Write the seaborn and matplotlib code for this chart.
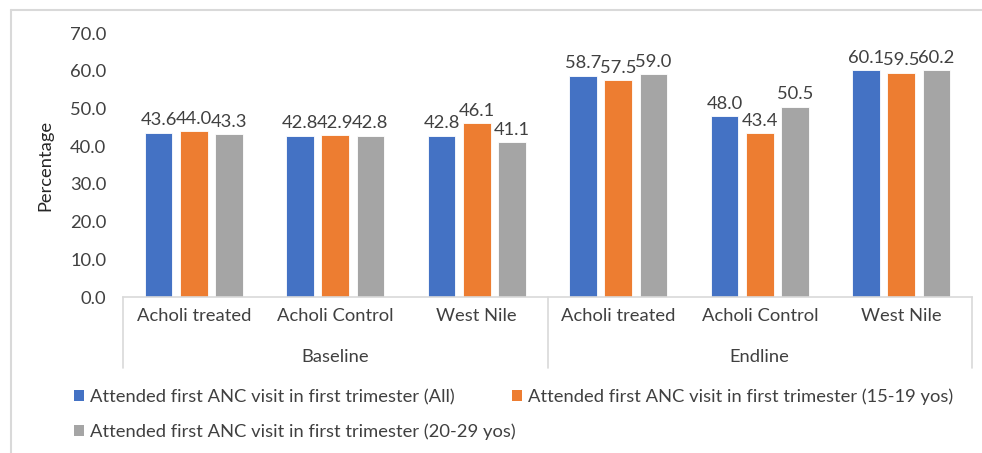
import matplotlib
matplotlib.use("Agg")
import matplotlib.pyplot as plt
from matplotlib.lines import Line2D
from matplotlib.patches import Patch
import matplotlib.transforms as mtransforms
import seaborn as sns
import pandas as pd

# ---- data ----
periods = ["Baseline", "Endline"]
sites = ["Acholi treated", "Acholi Control", "West Nile"]
series_names = [
    "Attended first ANC visit in first trimester (All)",
    "Attended first ANC visit in first trimester (15-19 yos)",
    "Attended first ANC visit in first trimester (20-29 yos)",
]
all_ages = [43.6, 42.8, 42.8, 58.7, 48.0, 60.1]
ages_15_19 = [44.0, 42.9, 46.1, 57.5, 43.4, 59.5]
ages_20_29 = [43.3, 42.8, 41.1, 59.0, 50.5, 60.2]
colors = ["#4472C4", "#ED7D31", "#A5A5A5"]
text_color = "#404040"
fs = 13.2

# ---- long-form table ----
keys = [f"{p}|{s}" for p in periods for s in sites]
rows = []
for name, vals in zip(series_names, [all_ages, ages_15_19, ages_20_29]):
    for k, v in zip(keys, vals):
        rows.append({"group": k, "series": name, "value": v})
df = pd.DataFrame(rows)

sns.set_theme(style="white")
plt.rcParams["font.family"] = ["Lato", "DejaVu Sans"]

W, H = 982, 453
fig = plt.figure(figsize=(W / 100, H / 100), dpi=100)
ax_left, ax_right, ax_top, ax_bottom = 123, 972, 33, 297
ax = fig.add_axes([ax_left / W, 1 - ax_bottom / H,
                   (ax_right - ax_left) / W, (ax_bottom - ax_top) / H])

sns.barplot(data=df, x="group", y="value", hue="series", order=keys,
            hue_order=series_names, palette=colors, saturation=1,
            width=0.745, gap=0.21, edgecolor="white", linewidth=0.6,
            legend=False, ax=ax)

for cont in ax.containers:
    ax.bar_label(cont, fmt="%.1f", padding=3, fontsize=fs, color=text_color)

ax.set_xlim(-0.5, len(keys) - 0.5)
ax.set_ylim(0, 70)
ax.set_yticks(range(0, 71, 10))
ax.set_yticklabels([f"{v:.1f}" for v in range(0, 71, 10)])
ax.set_xticks(range(len(keys)))
ax.set_xticklabels([s for p in periods for s in sites])
ax.tick_params(axis="y", length=0, pad=12, labelsize=fs, labelcolor=text_color)
ax.tick_params(axis="x", length=0, pad=8, labelsize=fs, labelcolor=text_color)
ax.set_xlabel("")
ax.set_ylabel("Percentage", fontsize=fs, color="#262626")
ax.yaxis.set_label_coords((53 - ax_left) / (ax_right - ax_left), 0.5)

for side in ["top", "right", "left"]:
    ax.spines[side].set_visible(False)
ax.spines["bottom"].set_color("#d9d9d9")
ax.spines["bottom"].set_linewidth(1.2)

# multi-level category axis: separators and period labels
trans = mtransforms.blended_transform_factory(ax.transData, ax.transAxes)
sep_bottom = -(368 - ax_bottom) / (ax_bottom - ax_top)
for xs in [-0.5, 2.5, 5.5]:
    ax.add_line(Line2D([xs, xs], [0, sep_bottom], transform=trans,
                       color="#d9d9d9", lw=1.2, clip_on=False))
period_y = -(357 - ax_bottom) / (ax_bottom - ax_top)
for i, p in enumerate(periods):
    ax.text(i * 3 + 1, period_y, p, transform=trans, ha="center", va="center",
            fontsize=fs, color=text_color)

# legend entries, two per row
legend_pos = [(74, 397), (512, 397), (74, 432)]
for name, col, (px, py) in zip(series_names, colors, legend_pos):
    fig.legend([Patch(facecolor=col, edgecolor="none")], [name],
               loc="center left", bbox_to_anchor=(px / W, 1 - py / H),
               frameon=False, fontsize=fs, handlelength=0.55, handleheight=0.55,
               handletextpad=0.35, borderpad=0, borderaxespad=0,
               labelcolor=text_color)

# outer chart border (top and left edges)
border = "#d9d9d9"
fig.add_artist(Line2D([11 / W, 1], [1 - 10 / H, 1 - 10 / H], color=border, lw=1.5))
fig.add_artist(Line2D([11 / W, 11 / W], [0, 1 - 10 / H], color=border, lw=1.5))

fig.savefig("out.png", dpi=100)
